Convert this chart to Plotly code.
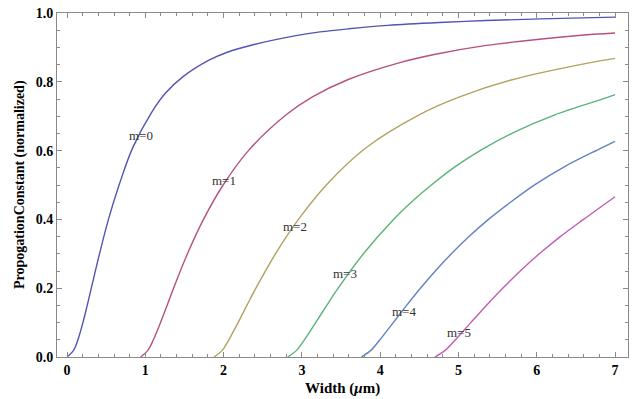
import plotly.graph_objects as go

# Width (um) and normalized propagation constant for each mode
m0_x = [0.0, 0.086, 0.139, 0.203, 0.258, 0.310, 0.415, 0.529, 0.665, 0.838, 1.083, 1.253, 1.482, 1.813, 2.047, 2.364, 2.943, 3.232, 3.600, 4.098, 4.825, 5.343, 6.047, 7.0]
m0_y = [0.0, 0.02, 0.05, 0.10, 0.15, 0.20, 0.30, 0.40, 0.50, 0.608, 0.712, 0.766, 0.815, 0.863, 0.886, 0.907, 0.935, 0.945, 0.954, 0.964, 0.973, 0.978, 0.983, 0.988]

m1_x = [0.940, 1.035, 1.103, 1.194, 1.278, 1.361, 1.538, 1.743, 1.994, 2.325, 2.799, 3.134, 3.584, 4.240, 4.706, 5.337, 6.496, 7.0]
m1_y = [0.0, 0.02, 0.05, 0.10, 0.15, 0.20, 0.30, 0.40, 0.50, 0.602, 0.704, 0.756, 0.806, 0.855, 0.880, 0.905, 0.934, 0.942]

m2_x = [1.880, 1.985, 2.067, 2.185, 2.297, 2.412, 2.662, 2.956, 3.324, 3.811, 4.515, 5.014, 5.686, 6.667, 7.0]
m2_y = [0.0, 0.02, 0.05, 0.10, 0.15, 0.20, 0.30, 0.40, 0.503, 0.607, 0.706, 0.756, 0.806, 0.855, 0.868]

m3_x = [2.820, 2.935, 3.032, 3.176, 3.317, 3.463, 3.785, 4.170, 4.396, 4.653, 4.949, 5.297, 5.715, 6.232, 6.894, 7.0]
m3_y = [0.0, 0.02, 0.05, 0.10, 0.15, 0.20, 0.30, 0.40, 0.45, 0.50, 0.552, 0.603, 0.654, 0.704, 0.754, 0.763]

m4_x = [3.760, 3.884, 3.996, 4.167, 4.337, 4.514, 4.704, 4.909, 5.134, 5.383, 5.664, 5.982, 6.351, 6.784, 7.0]
m4_y = [0.0, 0.02, 0.05, 0.10, 0.15, 0.20, 0.25, 0.30, 0.35, 0.40, 0.45, 0.502, 0.553, 0.603, 0.627]

m5_x = [4.700, 4.834, 4.961, 5.157, 5.356, 5.565, 5.789, 6.032, 6.300, 6.597, 7.0]
m5_y = [0.0, 0.02, 0.05, 0.10, 0.15, 0.20, 0.25, 0.30, 0.35, 0.40, 0.466]

series_x = [m0_x, m1_x, m2_x, m3_x, m4_x, m5_x]
series_y = [m0_y, m1_y, m2_y, m3_y, m4_y, m5_y]
mode_names = ["m=0", "m=1", "m=2", "m=3", "m=4", "m=5"]
colors = ["#5454b4", "#b5517f", "#b3a162", "#5db279", "#6482c2", "#c05cb6"]

# label anchor positions (data coordinates)
label_x = [0.94, 2.00, 2.91, 3.55, 4.30, 5.01]
label_y = [0.644, 0.514, 0.379, 0.243, 0.131, 0.070]

x_ticks = [0, 1, 2, 3, 4, 5, 6, 7]
y_ticks = [0.0, 0.2, 0.4, 0.6, 0.8, 1.0]
y_tick_text = ["0.0", "0.2", "0.4", "0.6", "0.8", "1.0"]
x_title = "Width (<i>μ</i>m)"
y_title = "PropogationConstant (normalized)"

fig = go.Figure()
for xs, ys, name, c in zip(series_x, series_y, mode_names, colors):
    fig.add_trace(go.Scatter(x=xs, y=ys, mode="lines", name=name,
                             line=dict(color=c, width=1.4, shape="spline", smoothing=1.0),
                             showlegend=False, hoverinfo="skip"))

for lx, ly, name in zip(label_x, label_y, mode_names):
    fig.add_annotation(x=lx, y=ly, text=name, showarrow=False,
                       font=dict(family="Liberation Serif", size=13, color="#333333"))

title_font = dict(family="Liberation Serif", size=14, color="black", weight="bold")
fig.add_annotation(xref="paper", yref="paper", x=0.5, y=0, yshift=-31, yanchor="middle",
                   text=x_title, showarrow=False,
                   font=dict(family="Liberation Serif", size=15, color="black", weight="bold"))
fig.add_annotation(xref="paper", yref="paper", x=0, y=0.5, xshift=-37, xanchor="center",
                   text=y_title, textangle=-90, showarrow=False, font=title_font)

axis_common = dict(showgrid=False, zeroline=False, showline=True, linecolor="#8a8a8a",
                   linewidth=1, mirror="ticks", ticks="inside", tickcolor="#8a8a8a",
                   ticklen=5, tickwidth=1, automargin=False,
                   tickfont=dict(family="Liberation Serif", size=14, color="black", weight="bold"))

fig.update_xaxes(range=[-0.128, 7.165], tickvals=x_ticks, **axis_common,
                 minor=dict(dtick=0.2, ticks="inside", ticklen=3, tickcolor="#8a8a8a"))
fig.update_yaxes(range=[0, 1], tickvals=y_ticks, ticktext=y_tick_text, **axis_common,
                 minor=dict(dtick=0.05, ticks="inside", ticklen=3, tickcolor="#8a8a8a"))

fig.update_layout(width=637, height=399, margin=dict(l=57, r=9, t=13, b=42),
                  paper_bgcolor="white", plot_bgcolor="white")

fig.write_html("out.html")
